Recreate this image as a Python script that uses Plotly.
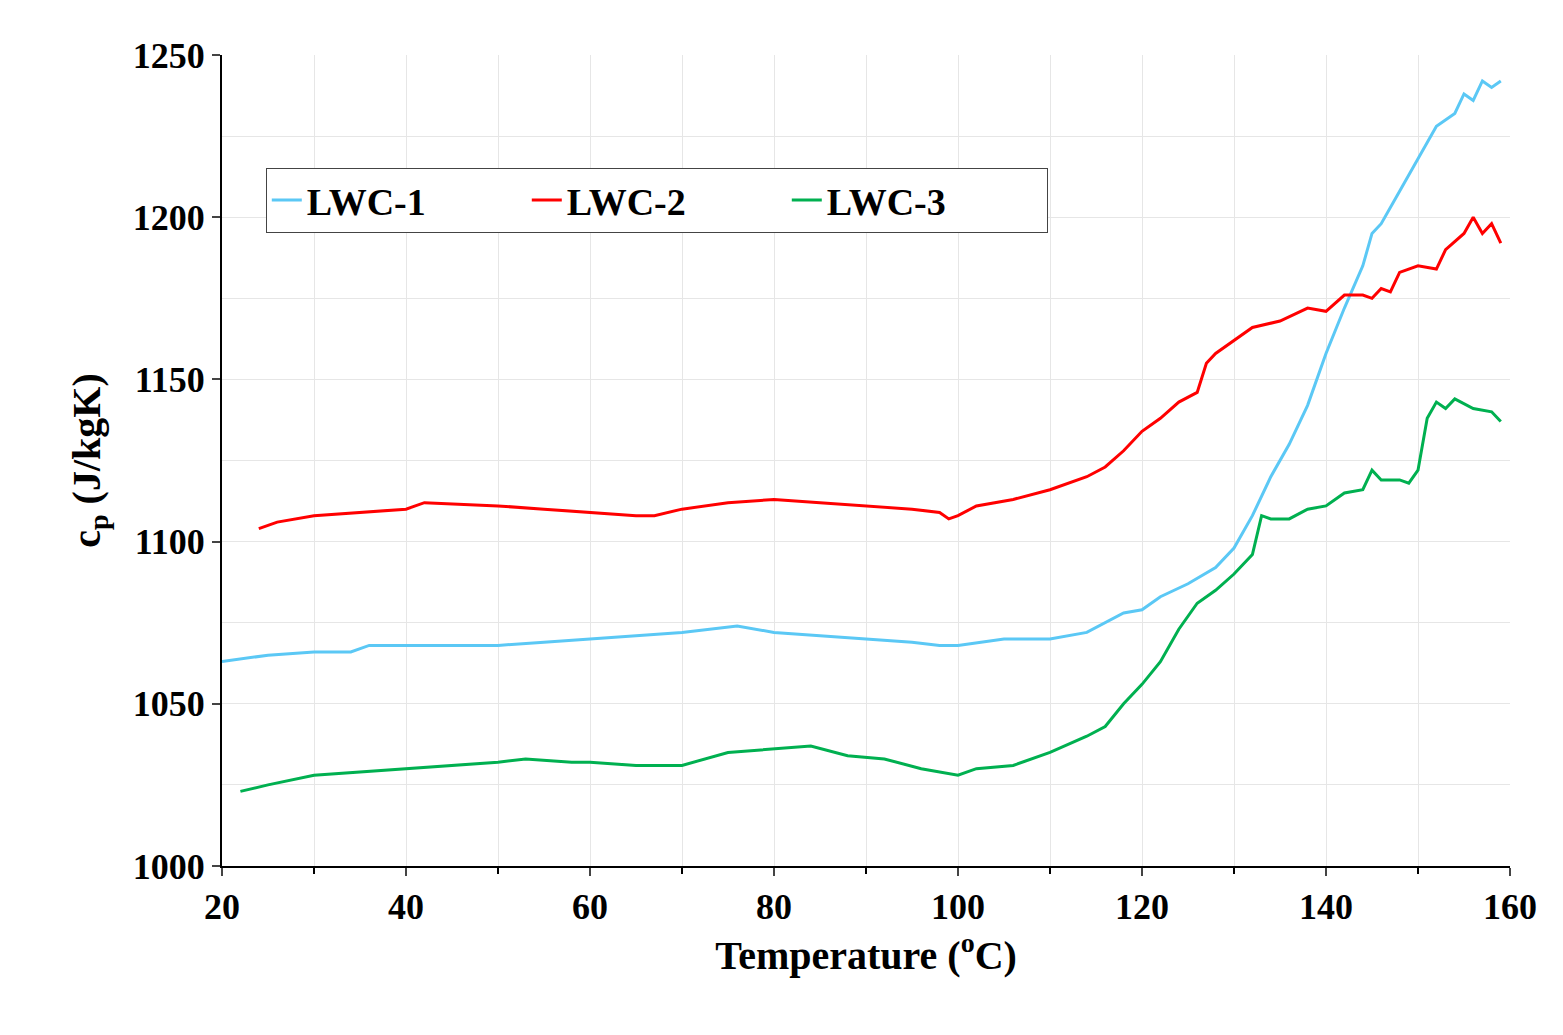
import plotly.graph_objects as go

t1 = [20,25,30,34,36,40,50,55,60,65,70,76,80,85,90,95,98,100,105,110,114,118,120,122,125,128,130,132,134,136,138,140,142,144,145,146,148,150,152,154,155,156,157,158,159]
c1 = [1063,1065,1066,1066,1068,1068,1068,1069,1070,1071,1072,1074,1072,1071,1070,1069,1068,1068,1070,1070,1072,1078,1079,1083,1087,1092,1098,1108,1120,1130,1142,1158,1172,1185,1195,1198,1208,1218,1228,1232,1238,1236,1242,1240,1242]
t2 = [24,26,30,35,40,42,50,55,60,65,67,70,75,80,85,90,95,98,99,100,102,106,110,114,116,118,120,122,124,126,127,128,130,132,135,138,140,142,144,145,146,147,148,150,152,153,155,156,157,158,159]
c2 = [1104,1106,1108,1109,1110,1112,1111,1110,1109,1108,1108,1110,1112,1113,1112,1111,1110,1109,1107,1108,1111,1113,1116,1120,1123,1128,1134,1138,1143,1146,1155,1158,1162,1166,1168,1172,1171,1176,1176,1175,1178,1177,1183,1185,1184,1190,1195,1200,1195,1198,1192]
t3 = [22,25,30,35,40,45,50,53,58,60,65,68,70,75,80,84,88,92,96,100,102,106,110,114,116,118,120,122,124,126,128,130,132,133,134,136,138,140,142,144,145,146,148,149,150,151,152,153,154,156,158,159]
c3 = [1023,1025,1028,1029,1030,1031,1032,1033,1032,1032,1031,1031,1031,1035,1036,1037,1034,1033,1030,1028,1030,1031,1035,1040,1043,1050,1056,1063,1073,1081,1085,1090,1096,1108,1107,1107,1110,1111,1115,1116,1122,1119,1119,1118,1122,1138,1143,1141,1144,1141,1140,1137]

names = ["LWC-1", "LWC-2", "LWC-3"]
colors = ["#5bc8f5", "#ff0000", "#00b050"]

fig = go.Figure()
for t, c, n, col in zip([t1, t2, t3], [c1, c2, c3], names, colors):
    fig.add_trace(go.Scatter(x=t, y=c, mode="lines", name="<b>" + n + "</b>", line=dict(color=col, width=3)))

fig.update_layout(
    width=1563, height=1035, plot_bgcolor="white", paper_bgcolor="white",
    margin=dict(l=214, r=61, t=47, b=177),
    font=dict(family="Liberation Serif", size=36, color="black"),
    legend=dict(orientation="h", x=0.034, y=0.861, xanchor="left", yanchor="top",
                bordercolor="#444", borderwidth=1, bgcolor="white",
                font=dict(family="Liberation Serif", size=38, color="black"),
                entrywidth=215, itemwidth=30, tracegroupgap=0),
    showlegend=True,
)
fig.update_xaxes(range=[20, 160], dtick=20, showline=True, linecolor="black", linewidth=2,
                 ticks="outside", ticklen=8, tickwidth=2, showgrid=True, gridcolor="#e6e6e6",
                 minor=dict(dtick=10, showgrid=True, gridcolor="#e6e6e6", ticks="outside", ticklen=6, tickcolor="black"),
                 tickfont=dict(family="Liberation Serif", size=36, color="black"),
                 title=dict(text="<b>Temperature (<sup>o</sup>C)</b>", font=dict(family="Liberation Serif", size=40)),
                 tickprefix="<b>", ticksuffix="</b>", zeroline=False)
fig.update_yaxes(range=[1000, 1250], dtick=50, showline=True, linecolor="black", linewidth=2,
                 ticks="outside", ticklen=8, tickwidth=2, showgrid=True, gridcolor="#e6e6e6",
                 minor=dict(dtick=25, showgrid=True, gridcolor="#e6e6e6"),
                 tickfont=dict(family="Liberation Serif", size=36, color="black"),
                 title=dict(text="<b>c<sub>p</sub> (J/kgK)</b>", font=dict(family="Liberation Serif", size=40), standoff=20),
                 tickprefix="<b>", ticksuffix="</b>", zeroline=False)
fig.write_html("out.html")
